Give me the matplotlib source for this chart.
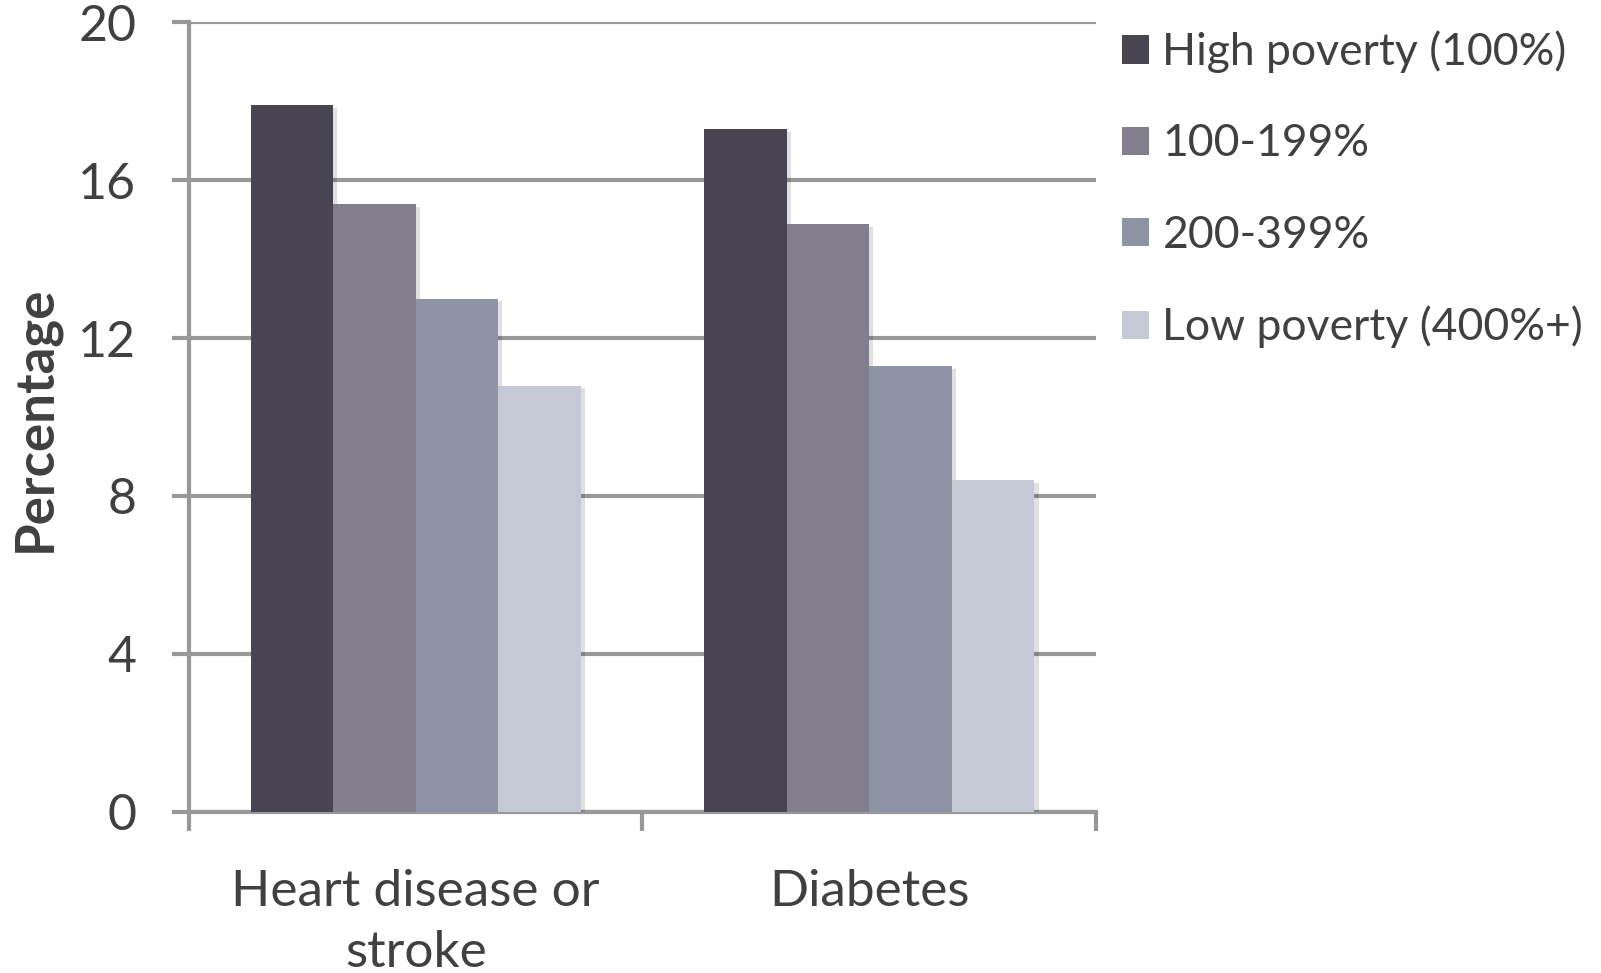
import matplotlib
matplotlib.use("Agg")
import matplotlib.pyplot as plt
import matplotlib.patheffects as pe
from matplotlib.patches import Patch
import numpy as np

categories = ["Heart disease or\nstroke", "Diabetes"]
series_names = ["High poverty (100%)", "100-199%", "200-399%", "Low poverty (400%+)"]
high_poverty = [17.9, 17.3]
pov_100_199 = [15.4, 14.9]
pov_200_399 = [13.0, 11.3]
low_poverty = [10.8, 8.4]
y_ticks = [0, 4, 8, 12, 16, 20]

series_values = [high_poverty, pov_100_199, pov_200_399, low_poverty]
colors = ["#484452", "#837E8D", "#8E94A4", "#C5C9D6"]
grid_color = "#989898"
text_color = "#404040"

plt.rcParams["font.family"] = ["Lato", "DejaVu Sans"]

fig = plt.figure(figsize=(16.01, 9.73), dpi=100)
ax = fig.add_axes([0.118, 0.1658, 0.5666, 0.8111])

x = np.arange(len(categories))
bar_w = 0.182
shadow = [pe.SimplePatchShadow(offset=(3, -2), shadow_rgbFace="#000000", alpha=0.12), pe.Normal()]
for i, (vals, col) in enumerate(zip(series_values, colors)):
    offs = (i - 1.5) * bar_w
    bars = ax.bar(x + offs, vals, width=bar_w, color=col, zorder=3, linewidth=0)
    for b in bars:
        b.set_path_effects(shadow)

ax.set_xlim(-0.5, 1.5)
ax.set_ylim(0, 20)
ax.set_yticks(y_ticks)
ax.set_yticklabels([str(t) for t in y_ticks])
ax.yaxis.grid(True, color=grid_color, linewidth=3, zorder=0)
ax.set_axisbelow(True)

for s in ["top", "right"]:
    ax.spines[s].set_visible(False)
for s in ["left", "bottom"]:
    ax.spines[s].set_color(grid_color)
    ax.spines[s].set_linewidth(3)

ax.tick_params(axis="y", length=12, width=3, color=grid_color, labelsize=36,
               labelcolor=text_color, pad=26)
ax.set_xticks([-0.5, 0.5, 1.5], minor=False)
ax.set_xticklabels(["", "", ""])
ax.tick_params(axis="x", which="major", length=14, width=3, color=grid_color)
ax.set_xticks(x, minor=True)
ax.set_xticklabels(categories, minor=True, fontsize=37, color=text_color,
                   linespacing=1.42)
ax.tick_params(axis="x", which="minor", length=0, pad=41)

fig.text(35 / 1601, 1 - 419 / 973, "Percentage", rotation=90, ha="center", va="center",
         fontsize=38, fontweight="bold", color=text_color)

handles = [Patch(facecolor=c, edgecolor="none") for c in colors]
leg = fig.legend(handles, series_names, loc="upper left", bbox_to_anchor=(0.690, 0.987),
                 frameon=False, fontsize=32, handlelength=0.6, handleheight=0.6,
                 handletextpad=0.3, labelspacing=1.13, borderaxespad=0)
for t in leg.get_texts():
    t.set_color(text_color)

fig.savefig("out.png", dpi=100)
